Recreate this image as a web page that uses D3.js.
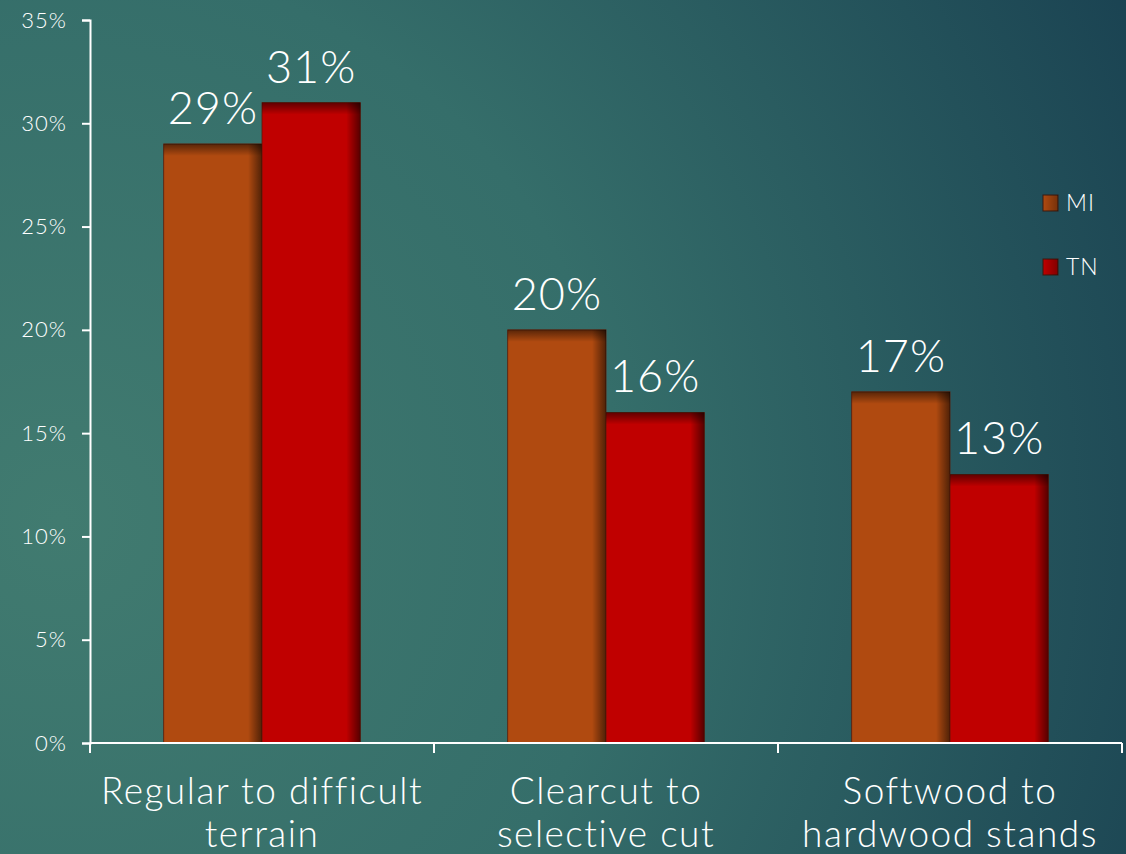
<!DOCTYPE html>
<html>
<head>
<meta charset="utf-8">
<script src="https://cdn.jsdelivr.net/npm/d3@7"></script>
<style>
  html, body { margin: 0; padding: 0; background: #2a5d62; }
  svg { display: block; }
  text { font-family: "Lato", "DejaVu Sans", sans-serif; font-weight: 300; fill: #ffffff; }
</style>
</head>
<body>
<svg id="chart" width="1126" height="854"></svg>
<script>
// Share of change by harvesting condition, by state
const categories = [["Regular to difficult", "terrain"], ["Clearcut to", "selective cut"], ["Softwood to", "hardwood stands"]];
const seriesNames = ["MI", "TN"];
const miValues = [29, 20, 17];
const tnValues = [31, 16, 13];
const yTicks = [0, 5, 10, 15, 20, 25, 30, 35];
const seriesColors = ["#b04a10", "#c00000"];

const W = 1126, H = 854;
const svg = d3.select("#chart");
const defs = svg.append("defs");

// background
const bg = defs.append("radialGradient").attr("id", "bg")
  .attr("gradientUnits", "userSpaceOnUse")
  .attr("cx", 60).attr("cy", 520).attr("r", 1250);
bg.append("stop").attr("offset", "0").attr("stop-color", "#417b70");
bg.append("stop").attr("offset", "0.45").attr("stop-color", "#356e6a");
bg.append("stop").attr("offset", "1").attr("stop-color", "#183f50");
svg.append("rect").attr("width", W).attr("height", H).attr("fill", "url(#bg)");

// inner shadow gradients for bars
const topShade = defs.append("linearGradient").attr("id", "topShade").attr("x1", 0).attr("y1", 0).attr("x2", 0).attr("y2", 1);
topShade.append("stop").attr("offset", 0).attr("stop-color", "#000").attr("stop-opacity", 0.5);
topShade.append("stop").attr("offset", 1).attr("stop-color", "#000").attr("stop-opacity", 0);
const rightShade = defs.append("linearGradient").attr("id", "rightShade").attr("x1", 0).attr("y1", 0).attr("x2", 1).attr("y2", 0);
rightShade.append("stop").attr("offset", 0).attr("stop-color", "#000").attr("stop-opacity", 0);
rightShade.append("stop").attr("offset", 1).attr("stop-color", "#000").attr("stop-opacity", 0.55);

const margin = { left: 90, right: 4, top: 20, bottom: 111 };
const x0 = d3.scaleBand().domain(d3.range(categories.length))
  .range([margin.left, W - margin.right]).paddingInner(0).paddingOuter(0);
const x1 = d3.scaleBand().domain(seriesNames).range([0, x0.bandwidth()]).paddingInner(0).paddingOuter(0.75);
const y = d3.scaleLinear().domain([0, 35]).range([H - margin.bottom, margin.top]);

// y axis
const yAxis = svg.append("g").attr("transform", `translate(${margin.left},0)`)
  .call(d3.axisLeft(y).tickValues(yTicks).tickFormat(d => d + "%").tickSize(8).tickPadding(15));
yAxis.select(".domain").attr("stroke", "#fff").attr("stroke-width", 2);
yAxis.selectAll(".tick line").attr("stroke", "#fff").attr("stroke-width", 2);
yAxis.selectAll(".tick text").style("font-size", "22px").style("letter-spacing", "1px").attr("fill", "#fff")
  .style("font-family", "Lato, 'DejaVu Sans', sans-serif").style("font-weight", 300);

// bars
const data = [];
categories.forEach((c, i) => {
  data.push({ cat: i, s: "MI", v: miValues[i], color: seriesColors[0] });
  data.push({ cat: i, s: "TN", v: tnValues[i], color: seriesColors[1] });
});

const bars = svg.append("g").selectAll("g").data(data).join("g")
  .attr("transform", d => `translate(${x0(d.cat) + x1(d.s)},${y(d.v)})`);
const bw = x1.bandwidth();
bars.append("rect").attr("width", bw).attr("height", d => y(0) - y(d.v)).attr("fill", d => d.color)
  .attr("stroke", "#5a1a08").attr("stroke-width", 0.8);
bars.append("rect").attr("width", bw).attr("height", 12).attr("fill", "url(#topShade)");
bars.append("rect").attr("x", bw - 14).attr("width", 14).attr("height", d => y(0) - y(d.v)).attr("fill", "url(#rightShade)");

// value labels
svg.append("g").selectAll("text").data(data).join("text")
  .attr("x", d => x0(d.cat) + x1(d.s) + bw / 2)
  .attr("y", d => y(d.v) - 20)
  .attr("text-anchor", "middle")
  .style("font-size", "45px")
  .style("letter-spacing", "1px")
  .text(d => d.v + "%");

// x axis
const xAxisG = svg.append("g").attr("transform", `translate(0,${y(0)})`);
xAxisG.append("line").attr("x1", margin.left).attr("x2", W - margin.right)
  .attr("stroke", "#fff").attr("stroke-width", 2);
const xTickPos = d3.range(categories.length + 1).map(i => i < categories.length ? x0(i) : x0(i - 1) + x0.bandwidth());
xAxisG.selectAll("line.tk").data(xTickPos).join("line").attr("class", "tk")
  .attr("x1", d => d).attr("x2", d => d).attr("y1", 0).attr("y2", 10)
  .attr("stroke", "#fff").attr("stroke-width", 2);

// category labels
const catLabels = svg.append("g").selectAll("text").data(categories).join("text")
  .attr("text-anchor", "middle")
  .attr("x", (d, i) => x0(i) + x0.bandwidth() / 2)
  .attr("y", y(0) + 61)
  .style("font-size", "37px")
  .style("letter-spacing", "1.5px");
catLabels.each(function (lines) {
  const t = d3.select(this);
  lines.forEach((ln, k) => {
    t.append("tspan").attr("x", t.attr("x")).attr("dy", k === 0 ? 0 : 43).text(ln);
  });
});

// legend
const legend = svg.append("g").selectAll("g").data(seriesNames).join("g")
  .attr("transform", (d, i) => `translate(1043,${195 + i * 64})`);
legend.append("rect").attr("width", 15).attr("height", 16).attr("fill", (d, i) => seriesColors[i])
  .attr("stroke", "#3a1a10").attr("stroke-width", 1);
legend.append("rect").attr("width", 15).attr("height", 16).attr("fill", "url(#rightShade)").attr("opacity", 0.6);
legend.append("text").attr("x", 23).attr("y", 16).style("font-size", "23px").style("letter-spacing", "1px").text(d => d);
</script>
</body>
</html>
